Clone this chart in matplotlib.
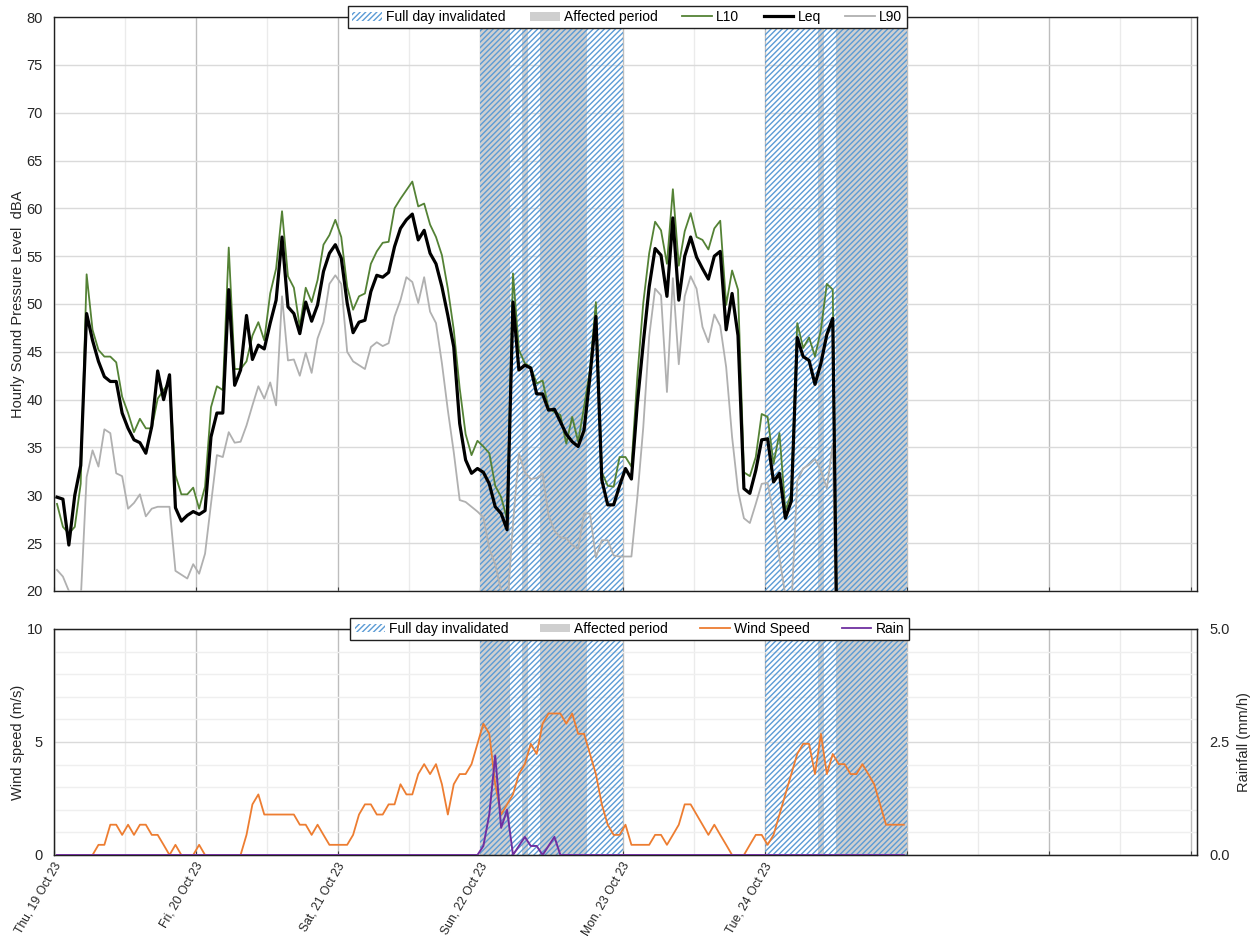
import matplotlib
matplotlib.use("Agg")
import matplotlib.pyplot as plt
from matplotlib.patches import Patch
from matplotlib.lines import Line2D
from matplotlib.transforms import ScaledTranslation
import numpy as np

plt.rcParams['font.family'] = ['Liberation Sans', 'DejaVu Sans']
plt.rcParams['hatch.linewidth'] = 1.0

# ---------------- data (hourly, starting Thu 19 Oct 23 00:00) ----------------
leq = [29.8, 29.6, 24.8, 30.0, 33.1, 49.0, 46.2, 44.0, 42.4, 41.9, 41.9, 38.6, 37.0, 35.8, 35.5, 34.4, 37.2, 43.0, 40.0, 42.6, 28.7, 27.3, 27.9, 28.3,
       28.0, 28.4, 36.1, 38.6, 38.6, 51.5, 41.5, 43.1, 48.8, 44.2, 45.7, 45.3, 48.0, 50.4, 57.0, 49.7, 49.0, 46.9, 50.2, 48.2, 49.9, 53.4, 55.3, 56.2,
       54.8, 50.1, 47.0, 48.1, 48.3, 51.3, 53.0, 52.8, 53.3, 56.0, 57.9, 58.8, 59.4, 56.7, 57.7, 55.3, 54.2, 51.8, 48.8, 45.5, 37.5, 33.7, 32.3, 32.8,
       32.4, 31.2, 28.8, 28.1, 26.4, 50.2, 43.1, 43.6, 43.3, 40.6, 40.6, 38.9, 39.0, 37.7, 36.4, 35.6, 35.1, 36.8, 42.4, 48.7, 31.6, 29.0, 29.0, 31.0,
       32.8, 31.7, 39.6, 45.9, 51.8, 55.8, 55.1, 50.8, 59.0, 50.4, 55.0, 57.0, 54.9, 53.7, 52.6, 55.0, 55.5, 47.3, 51.1, 46.7, 30.7, 30.2, 32.6, 35.8,
       35.9, 31.4, 32.3, 27.6, 29.4, 46.5, 44.5, 44.1, 41.6, 43.8, 46.8, 48.5, 0, 0, 0, 0, 0, 0, 0, 0, 0, 0, 0, 0]

l10 = [29.1, 26.7, 26.0, 26.7, 31.2, 53.1, 47.3, 45.2, 44.5, 44.5, 43.9, 40.3, 38.6, 36.6, 38.0, 37.0, 37.0, 40.1, 41.0, 41.9, 32.1, 30.1, 30.1, 30.8,
       28.6, 30.9, 39.2, 41.4, 41.0, 55.9, 43.2, 43.2, 44.0, 46.7, 48.1, 46.2, 51.1, 53.7, 59.7, 52.9, 51.7, 47.6, 51.7, 50.2, 52.5, 56.2, 57.2, 58.8,
       57.0, 51.8, 49.4, 50.8, 51.1, 54.2, 55.5, 56.4, 56.5, 60.0, 61.0, 61.9, 62.8, 60.2, 60.5, 58.3, 57.0, 55.1, 51.6, 47.3, 41.2, 36.4, 34.2, 35.7,
       35.1, 34.4, 31.0, 29.8, 27.5, 53.2, 45.2, 43.8, 43.4, 41.7, 42.0, 39.1, 38.7, 38.4, 35.4, 38.2, 35.6, 39.2, 43.1, 50.2, 32.4, 31.0, 30.9, 34.0,
       34.0, 33.0, 42.4, 50.1, 55.3, 58.6, 57.7, 54.2, 62.0, 54.0, 57.6, 59.5, 57.0, 56.7, 55.7, 57.9, 58.7, 49.9, 53.5, 51.5, 32.4, 32.0, 34.0, 38.5,
       38.2, 33.3, 36.5, 28.4, 30.2, 48.0, 45.4, 46.5, 44.5, 47.3, 52.1, 51.5, 0, 0, 0, 0, 0, 0, 0, 0, 0, 0, 0, 0]

l90 = [22.2, 21.5, 20.0, 19.0, 19.0, 31.9, 34.7, 33.0, 36.9, 36.5, 32.3, 32.0, 28.6, 29.2, 30.1, 27.8, 28.6, 28.8, 28.8, 28.8, 22.1, 21.7, 21.3, 22.8,
       21.8, 23.9, 29.1, 34.2, 34.0, 36.6, 35.5, 35.6, 37.3, 39.4, 41.4, 40.1, 41.8, 39.4, 50.8, 44.1, 44.2, 42.5, 44.9, 42.8, 46.4, 48.1, 52.1, 53.0,
       52.1, 45.0, 44.0, 43.6, 43.2, 45.5, 46.0, 45.6, 45.9, 48.7, 50.4, 52.8, 52.3, 50.1, 52.8, 49.2, 48.0, 43.8, 38.9, 34.5, 29.5, 29.3, 28.8, 28.3,
       27.7, 24.4, 22.8, 20.0, 18.0, 27.0, 34.4, 32.4, 31.7, 31.8, 32.3, 27.9, 26.3, 25.6, 25.5, 24.8, 24.4, 28.1, 28.1, 23.5, 25.3, 25.3, 23.7, 23.6,
       23.6, 23.6, 29.8, 37.1, 46.6, 51.6, 50.9, 40.8, 52.7, 43.7, 50.8, 52.9, 51.6, 47.6, 46.0, 48.9, 47.7, 43.4, 36.1, 30.5, 27.6, 27.1, 29.1, 31.2,
       31.3, 28.0, 23.5, 19.5, 18.0, 31.5, 32.8, 33.2, 33.8, 32.6, 30.7, 35.4, 0, 0, 0, 0, 0, 0, 0, 0, 0, 0, 0, 0]

wind = [0, 0, 0, 0, 0, 0, 0, 0.45, 0.45, 1.34, 1.34, 0.89, 1.34, 0.89, 1.34, 1.34, 0.89, 0.89, 0.45, 0, 0.45, 0, 0, 0,
        0.45, 0, 0, 0, 0, 0, 0, 0, 0.89, 2.24, 2.68, 1.79, 1.79, 1.79, 1.79, 1.79, 1.79, 1.34, 1.34, 0.89, 1.34, 0.89, 0.45, 0.45,
        0.45, 0.45, 0.89, 1.79, 2.24, 2.24, 1.79, 1.79, 2.24, 2.24, 3.13, 2.68, 2.68, 3.58, 4.02, 3.58, 4.02, 3.13, 1.79, 3.13, 3.58, 3.58, 4.02, 4.92,
        5.81, 5.36, 3.13, 1.79, 2.24, 2.68, 3.58, 4.02, 4.92, 4.47, 5.81, 6.26, 6.26, 6.26, 5.81, 6.26, 5.36, 5.36, 4.47, 3.58, 2.24, 1.34, 0.89, 0.89,
        1.34, 0.45, 0.45, 0.45, 0.45, 0.89, 0.89, 0.45, 0.89, 1.34, 2.24, 2.24, 1.79, 1.34, 0.89, 1.34, 0.89, 0.45, 0, 0, 0, 0.45, 0.89, 0.89,
        0.45, 0.89, 1.79, 2.68, 3.58, 4.47, 4.92, 4.92, 3.58, 5.36, 3.58, 4.47, 4.02, 4.02, 3.58, 3.58, 4.02, 3.58, 3.13, 2.24, 1.34, 1.34, 1.34, 1.34]

rain = [0] * 72 + [0.2, 0.9, 2.2, 0.6, 1.0, 0, 0.2, 0.4, 0.2, 0.2, 0, 0.2, 0.4] + [0] * 59

# periods in hours from Thu 19 Oct 23 00:00
full_day_invalid = [(72, 96), (120, 144)]
affected_periods = [(72, 77), (79, 80), (82, 90), (129, 130), (132, 144)]

day_labels = ["Thu, 19 Oct 23", "Fri, 20 Oct 23", "Sat, 21 Oct 23", "Sun, 22 Oct 23",
              "Mon, 23 Oct 23", "Tue, 24 Oct 23", "", "", ""]

# ---------------- styling ----------------
c_l10 = '#548235'
c_leq = '#000000'
c_l90 = '#B0B0B0'
c_wind = '#ED7D31'
c_rain = '#7030A0'
c_hatch = '#5B9BD5'
c_aff = '#CFCFCF'
txt = '#262626'
HATCH = '//////'

x = (np.arange(len(leq)) + 0.5) / 24.0   # days

fig = plt.figure(figsize=(12.54, 9.41), dpi=100)
ax1 = fig.add_axes([0.0431, 0.3720, 0.9114, 0.6099])
ax2 = fig.add_axes([0.0431, 0.0914, 0.9114, 0.2402])

xmax = 8 + 1 / 24.0


def style_x(ax):
    ax.set_xlim(0, xmax)
    ax.set_xticks(np.arange(0, 9))
    ax.set_xticks(np.arange(0.5, 8, 1.0), minor=True)
    ax.grid(True, which='major', axis='x', color='#BDBDBD', lw=1.0, zorder=0)
    ax.grid(True, which='minor', axis='x', color='#EBEBEB', lw=1.0, zorder=0)
    ax.tick_params(axis='x', which='major', direction='in', length=3, color='#404040')
    ax.tick_params(axis='x', which='minor', length=0)
    ax.tick_params(axis='y', length=0, labelsize=10.5, labelcolor=txt, pad=8)
    for s in ax.spines.values():
        s.set_color('#202020')
        s.set_linewidth(1.0)
    ax.set_axisbelow(True)


def spans(ax):
    for a, b in affected_periods:
        ax.axvspan(a / 24.0, b / 24.0, facecolor=c_aff, edgecolor='none', lw=0, zorder=1)
    for a, b in full_day_invalid:
        ax.axvspan(a / 24.0, b / 24.0, facecolor='none', edgecolor=c_hatch, hatch=HATCH, lw=0, zorder=1.5)


leg_kw = dict(fontsize=10, frameon=True, fancybox=False, framealpha=1, edgecolor='#202020',
              handlelength=2.15, handleheight=0.6, columnspacing=1.75, handletextpad=0.3,
              borderpad=0.32, borderaxespad=0)

# ---------------- top panel ----------------
style_x(ax1)
spans(ax1)
ax1.set_ylim(20, 80)
ax1.set_yticks(np.arange(20, 81, 5))
ax1.grid(True, which='major', axis='y', color='#DADADA', lw=1.0, zorder=0)
ax1.set_xticklabels([])
ax1.plot(x, l90, color=c_l90, lw=1.3, zorder=3)
ax1.plot(x, l10, color=c_l10, lw=1.3, zorder=4)
ax1.plot(x, leq, color=c_leq, lw=2.3, zorder=5)
ax1.set_ylabel("Hourly Sound Pressure Level  dBA", fontsize=10.5, color=txt, labelpad=1)

h_hatch = Patch(facecolor='white', edgecolor=c_hatch, hatch=HATCH, lw=0)
h_aff = Patch(facecolor=c_aff, edgecolor='none')
handles1 = [h_hatch, h_aff,
            Line2D([], [], color=c_l10, lw=1.3),
            Line2D([], [], color=c_leq, lw=2.3),
            Line2D([], [], color=c_l90, lw=1.3)]
labels1 = ["Full day invalidated", "Affected period", "L10", "Leq", "L90"]
leg1 = ax1.legend(handles1, labels1, loc='center', bbox_to_anchor=(0.5015, 1.0), ncol=5, **leg_kw)
leg1.get_frame().set_linewidth(1.0)
leg1.set_zorder(10)

# ---------------- bottom panel ----------------
style_x(ax2)
spans(ax2)
ax2.set_ylim(0, 10)
ax2.set_yticks([0, 5, 10])
ax2.set_yticks(np.arange(0, 10.1, 1), minor=True)
ax2.grid(True, which='major', axis='y', color='#DADADA', lw=1.0, zorder=0)
ax2.grid(True, which='minor', axis='y', color='#EFEFEF', lw=1.0, zorder=0)
ax2.tick_params(axis='y', which='minor', length=0)
ax2.set_xticklabels(day_labels, rotation=60, ha='right', va='center', rotation_mode='anchor',
                    fontsize=8.7, color=txt)
ax2.tick_params(axis='x', which='major', pad=6)
shift = ScaledTranslation(4 / 100.0, 0, fig.dpi_scale_trans)
for lbl in ax2.get_xticklabels():
    lbl.set_transform(lbl.get_transform() + shift)
ax2.plot(x, wind, color=c_wind, lw=1.3, zorder=4)
ax2.set_ylabel("Wind speed (m/s)", fontsize=10.5, color=txt, labelpad=1)

ax3 = ax2.twinx()
ax3.set_ylim(0, 5)
ax3.set_yticks([0, 2.5, 5.0])
ax3.set_yticklabels(["0.0", "2.5", "5.0"])
ax3.tick_params(axis='y', length=0, labelsize=10.5, labelcolor=txt, pad=9)
ax3.plot(x, rain, color=c_rain, lw=1.4, zorder=5)
ax3.set_ylabel("Rainfall (mm/h)", fontsize=10.5, color=txt, labelpad=5)
for s in ax3.spines.values():
    s.set_color('#202020')

handles2 = [h_hatch, h_aff,
            Line2D([], [], color=c_wind, lw=1.3),
            Line2D([], [], color=c_rain, lw=1.3)]
labels2 = ["Full day invalidated", "Affected period", "Wind Speed", "Rain"]
leg_kw2 = dict(leg_kw, columnspacing=2.3)
leg2 = ax3.legend(handles2, labels2, loc='center', bbox_to_anchor=(0.5035, 1.0), ncol=4, **leg_kw2)
leg2.get_frame().set_linewidth(1.0)
leg2.set_zorder(10)

fig.savefig("out.png", dpi=100)
